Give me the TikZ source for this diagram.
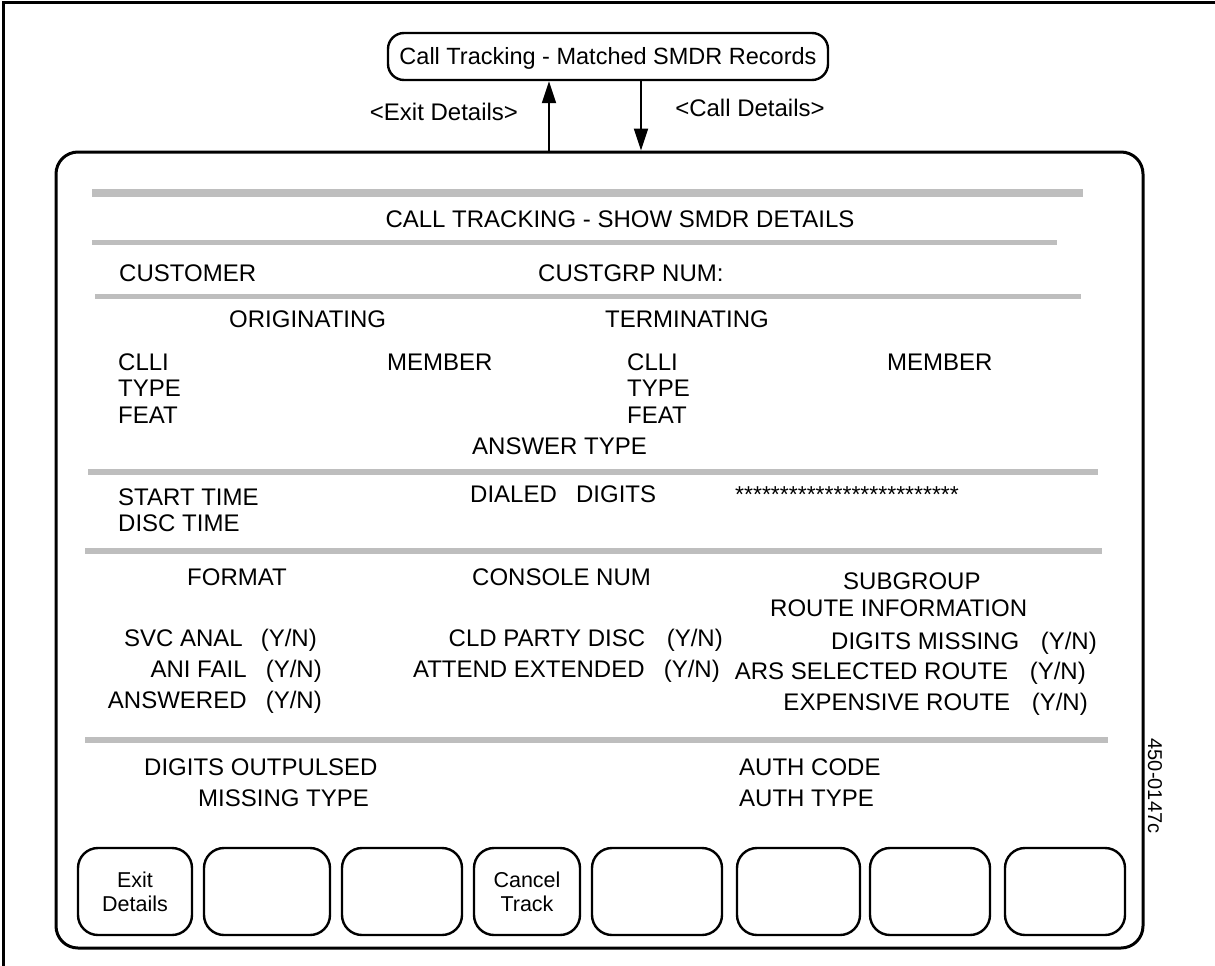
\documentclass[tikz,border=0pt]{standalone}
\usepackage{fontspec}
\setmainfont{Liberation Sans}
\usetikzlibrary{arrows.meta}
\definecolor{bargray}{RGB}{190,190,190}
\begin{document}
\begin{tikzpicture}[x=1pt,y=-1pt,
  lbl/.style={inner sep=0pt, font=\fontsize{24}{27}\selectfont},
  ltxt/.style={lbl, anchor=base west},
  rtxt/.style={lbl, anchor=base east},
  bar/.style={draw=bargray, line width=#1},
  bar/.default=6pt,
  btn/.style={draw, line width=2.4pt, rounded corners=20pt, align=center,
    minimum height=87pt, inner sep=0pt,
    font=\fontsize{21.5}{24}\selectfont},
  arr/.style={line width=2pt, -{Triangle[length=22pt,width=14pt]}}
]
\useasboundingbox (0,0) rectangle (1215,966);

% frame
\draw[line width=3pt] (3,966) -- (3,3) -- (1215,3);

% menu node above the screen
\node[draw, line width=2.4pt, rounded corners=16pt, minimum width=440pt,
  minimum height=47pt, inner sep=0pt, text height=17pt, text depth=0pt,
  font=\fontsize{23.5}{26}\selectfont]
  (top) at (608,56.5) {Call Tracking - Matched SMDR Records};

% screen
\node[draw, line width=3pt, rounded corners=22pt, minimum width=1087pt,
  minimum height=796pt, inner sep=0pt] (scr) at (599.5,550) {};

% transitions
\coordinate (ux) at (549,0);
\coordinate (dx) at (641,0);
\draw[arr] (scr.north -| ux) -- (top.south -| ux);
\draw[arr] (top.south -| dx) -- (scr.north -| dx);
\node[lbl, anchor=base] (exitlbl) at (444,120) {<Exit Details>};
\node[lbl, anchor=base] (calllbl) at (750,116) {<Call Details>};

% separator bars
\draw[bar=8pt] (92,193) -- (1083,193);
\draw[bar=5pt] (92,242) -- (1057,242);
\draw[bar=5pt] (95,296) -- (1081,296);
\draw[bar] (88,472) -- (1098,472);
\draw[bar] (85,551) -- (1102,551);
\draw[bar] (85,740) -- (1108,740);

% screen title
\node[lbl, anchor=base] (title) at (620,227.5) {CALL TRACKING - SHOW SMDR DETAILS};

% customer line
\node[ltxt] (cust) at (119,281) {CUSTOMER};
\node[ltxt] (cgrp) at (538,281) {CUSTGRP NUM:};

% originating / terminating
\node[ltxt] (orig) at (229,327) {ORIGINATING};
\node[ltxt] (term) at (605,327) {TERMINATING};
\node[ltxt] (oclli) at (118,370) {CLLI};
\node[ltxt] (omem) at (387,370) {MEMBER};
\node[ltxt] (tclli) at (627,370) {CLLI};
\node[ltxt] (tmem) at (887,370) {MEMBER};
\node[ltxt] (otype) at (118,396) {TYPE};
\node[ltxt] (ttype) at (627,396) {TYPE};
\node[ltxt] (ofeat) at (118,423) {FEAT};
\node[ltxt] (tfeat) at (627,423) {FEAT};
\node[ltxt] (anst) at (472,454) {ANSWER TYPE};

% times and digits
\node[ltxt] (start) at (118,505) {START TIME};
\node[ltxt] (disc) at (118,531) {DISC TIME};
\node[ltxt] (dialed) at (470,502) {DIALED\hspace{0.8em}DIGITS};
\node[ltxt, font=\fontsize{23}{25}\selectfont] (stars) at (735,502) {*************************};

% flags
\node[ltxt] (fmt) at (187,585) {FORMAT};
\node[ltxt] (cons) at (472,585) {CONSOLE NUM};
\node[ltxt] (subg) at (843,589) {SUBGROUP};
\node[ltxt] (rinfo) at (770,616) {ROUTE INFORMATION};

\node[rtxt] (svc) at (317,646) {SVC ANAL\hspace{0.75em}(Y/N)};
\node[rtxt] (cld) at (723,646) {CLD PARTY DISC\hspace{0.9em}(Y/N)};
\node[rtxt] (dmis) at (1097,649) {DIGITS MISSING\hspace{0.9em}(Y/N)};
\node[rtxt] (ani) at (322,677) {ANI FAIL\hspace{0.8em}(Y/N)};
\node[rtxt] (att) at (720,677) {ATTEND EXTENDED\hspace{0.8em}(Y/N)};
\node[rtxt] (ars) at (1086,679) {ARS SELECTED ROUTE\hspace{0.9em}(Y/N)};
\node[rtxt] (answ) at (322,708) {ANSWERED\hspace{0.8em}(Y/N)};
\node[rtxt] (expr) at (1088,710) {EXPENSIVE ROUTE\hspace{0.9em}(Y/N)};

% outpulsing and authorization
\node[ltxt] (dout) at (144,775) {DIGITS OUTPULSED};
\node[ltxt] (acode) at (739,775) {AUTH CODE};
\node[ltxt] (mtype) at (198,806) {MISSING TYPE};
\node[ltxt] (atype) at (739,806) {AUTH TYPE};

% figure number
\node[lbl, font=\fontsize{20}{22}\selectfont, rotate=-90] (fignum) at (1155,786) {450-0147c};

% soft keys
\node[btn, minimum width=114pt] (k1) at (135,891.5) {Exit\\Details};
\node[btn, minimum width=126pt] (k2) at (267,891.5) {};
\node[btn, minimum width=120pt] (k3) at (402,891.5) {};
\node[btn, minimum width=106pt] (k4) at (527,891.5) {Cancel\\Track};
\node[btn, minimum width=130pt] (k5) at (657,891.5) {};
\node[btn, minimum width=123pt] (k6) at (798.5,891.5) {};
\node[btn, minimum width=120pt] (k7) at (930,891.5) {};
\node[btn, minimum width=120pt] (k8) at (1065,891.5) {};
\end{tikzpicture}
\end{document}
